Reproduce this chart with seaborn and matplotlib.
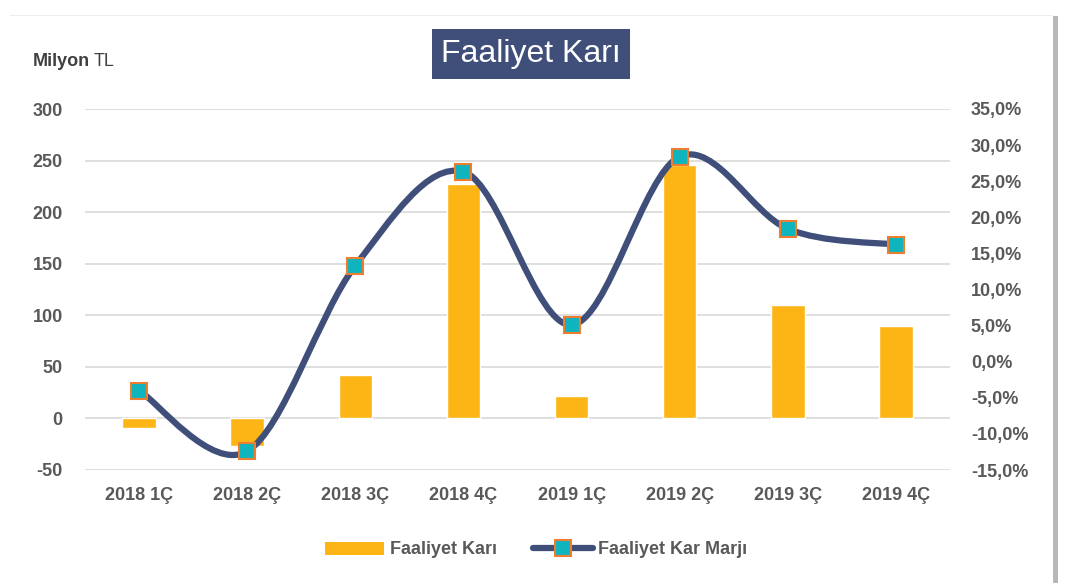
import numpy as np
import pandas as pd
import matplotlib
matplotlib.use("Agg")
import matplotlib.pyplot as plt
import seaborn as sns
from matplotlib.path import Path
from matplotlib.patches import PathPatch, Patch, Rectangle
from matplotlib.lines import Line2D

# Veriler
ceyrekler = ["2018 1Ç", "2018 2Ç", "2018 3Ç", "2018 4Ç",
             "2019 1Ç", "2019 2Ç", "2019 3Ç", "2019 4Ç"]
faaliyet_kari = [-9, -27, 42, 227, 22, 246, 110, 90]          # Milyon TL
kar_marji = [-4.0, -12.4, 13.3, 26.3, 5.1, 28.4, 18.4, 16.2]   # %

sol_ticks = [-50, 0, 50, 100, 150, 200, 250, 300]
sag_ticks = [-15, -10, -5, 0, 5, 10, 15, 20, 25, 30, 35]

BAR = "#FDB515"
NAVY = "#3F4F7A"
TEAL = "#0FB5BE"
TURUNCU = "#ED7D31"
GRI = "#595959"

sns.set_style("white")
plt.rcParams['font.family'] = ['Liberation Sans', 'DejaVu Sans']
plt.rcParams['axes.unicode_minus'] = False

fig = plt.figure(figsize=(10.68, 5.83), dpi=100)
ax = fig.add_axes([85 / 1068, 1 - 470 / 583, 865 / 1068, 361 / 583])

df = pd.DataFrame({"ceyrek": ceyrekler, "kar": faaliyet_kari})
sns.barplot(data=df, x="ceyrek", y="kar", color=BAR, width=0.31,
            saturation=1, ax=ax, zorder=2)
ax.set_xlim(-0.5, 7.5)
ax.set_ylim(-50, 300)
ax.set_yticks(sol_ticks)
ax.set_xlabel("")
ax.set_ylabel("")
ax.grid(axis="y", color="#D9D9D9", linewidth=1.2, zorder=0)
ax.set_axisbelow(True)
for s in ax.spines.values():
    s.set_visible(False)
ax.tick_params(axis="both", length=0, labelsize=13, labelcolor=GRI)
ax.tick_params(axis="y", pad=16)
ax.tick_params(axis="x", pad=12)
for t in ax.get_xticklabels() + ax.get_yticklabels():
    t.set_fontweight("bold")

# Sağ eksen: marj (Excel tarzı yumuşatılmış çizgi)
ax2 = ax.twinx()
ax2.set_ylim(-15, 35)
ax2.set_yticks(sag_ticks)
ax2.set_yticklabels([f"{v:.1f}%".replace(".", ",") for v in sag_ticks])
for s in ax2.spines.values():
    s.set_visible(False)
ax2.tick_params(axis="y", length=0, labelsize=13, labelcolor=GRI, pad=15)
for t in ax2.get_yticklabels():
    t.set_fontweight("bold")

xs = np.arange(len(kar_marji), dtype=float)
ys = np.array(kar_marji)
pts = np.column_stack([xs, ys])
verts = [pts[0]]
codes = [Path.MOVETO]
n = len(pts)
for i in range(n - 1):
    p0 = pts[max(i - 1, 0)]
    p1 = pts[i]
    p2 = pts[i + 1]
    p3 = pts[min(i + 2, n - 1)]
    c1 = p1 + (p2 - p0) / 6
    c2 = p2 - (p3 - p1) / 6
    verts += [c1, c2, p2]
    codes += [Path.CURVE4] * 3
ax2.add_patch(PathPatch(Path(verts, codes), facecolor="none", edgecolor=NAVY,
                        linewidth=4.5, capstyle="round", zorder=3))
ax2.plot(xs, ys, linestyle="none", marker="s", markersize=12,
         markerfacecolor=TEAL, markeredgecolor=TURUNCU, markeredgewidth=1.5,
         zorder=4)

# Başlık ve birim
fig.text(531 / 1068, 1 - 54 / 583, "Faaliyet Karı", ha="center", va="center",
         fontsize=23, color="white",
         bbox=dict(boxstyle="square,pad=0.3", facecolor=NAVY, edgecolor="none"))
fig.text(33 / 1068, 1 - 66 / 583, "Milyon", ha="left", va="baseline",
         fontsize=13, fontweight="bold", color="#404040")
fig.text(94 / 1068, 1 - 66 / 583, "TL", ha="left", va="baseline",
         fontsize=13, color="#404040")

# Lejant
handles = [Patch(facecolor=BAR, edgecolor="none"),
           Line2D([], [], color=NAVY, linewidth=4.5, solid_capstyle="round",
                  marker="s", markersize=12, markerfacecolor=TEAL,
                  markeredgecolor=TURUNCU, markeredgewidth=1.5)]
leg = fig.legend(handles, ["Faaliyet Karı", "Faaliyet Kar Marjı"], ncol=2,
                 loc="center", bbox_to_anchor=(536 / 1068, 1 - 550 / 583),
                 frameon=False, handlelength=3.3, handletextpad=0.3,
                 columnspacing=2.0,
                 prop=dict(size=13, weight="bold"))
for t in leg.get_texts():
    t.set_color(GRI)

# Kart gölgesi
fig.patches.append(Rectangle((1053 / 1068, 0), 5 / 1068, 1 - 16 / 583,
                             transform=fig.transFigure, facecolor="#A6A6A6",
                             edgecolor="none", alpha=0.8))
fig.patches.append(Rectangle((10 / 1068, 1 - 16 / 583), 1043 / 1068, 1.5 / 583,
                             transform=fig.transFigure, facecolor="#EEEEEE",
                             edgecolor="none"))

fig.savefig("out.png", dpi=100)
